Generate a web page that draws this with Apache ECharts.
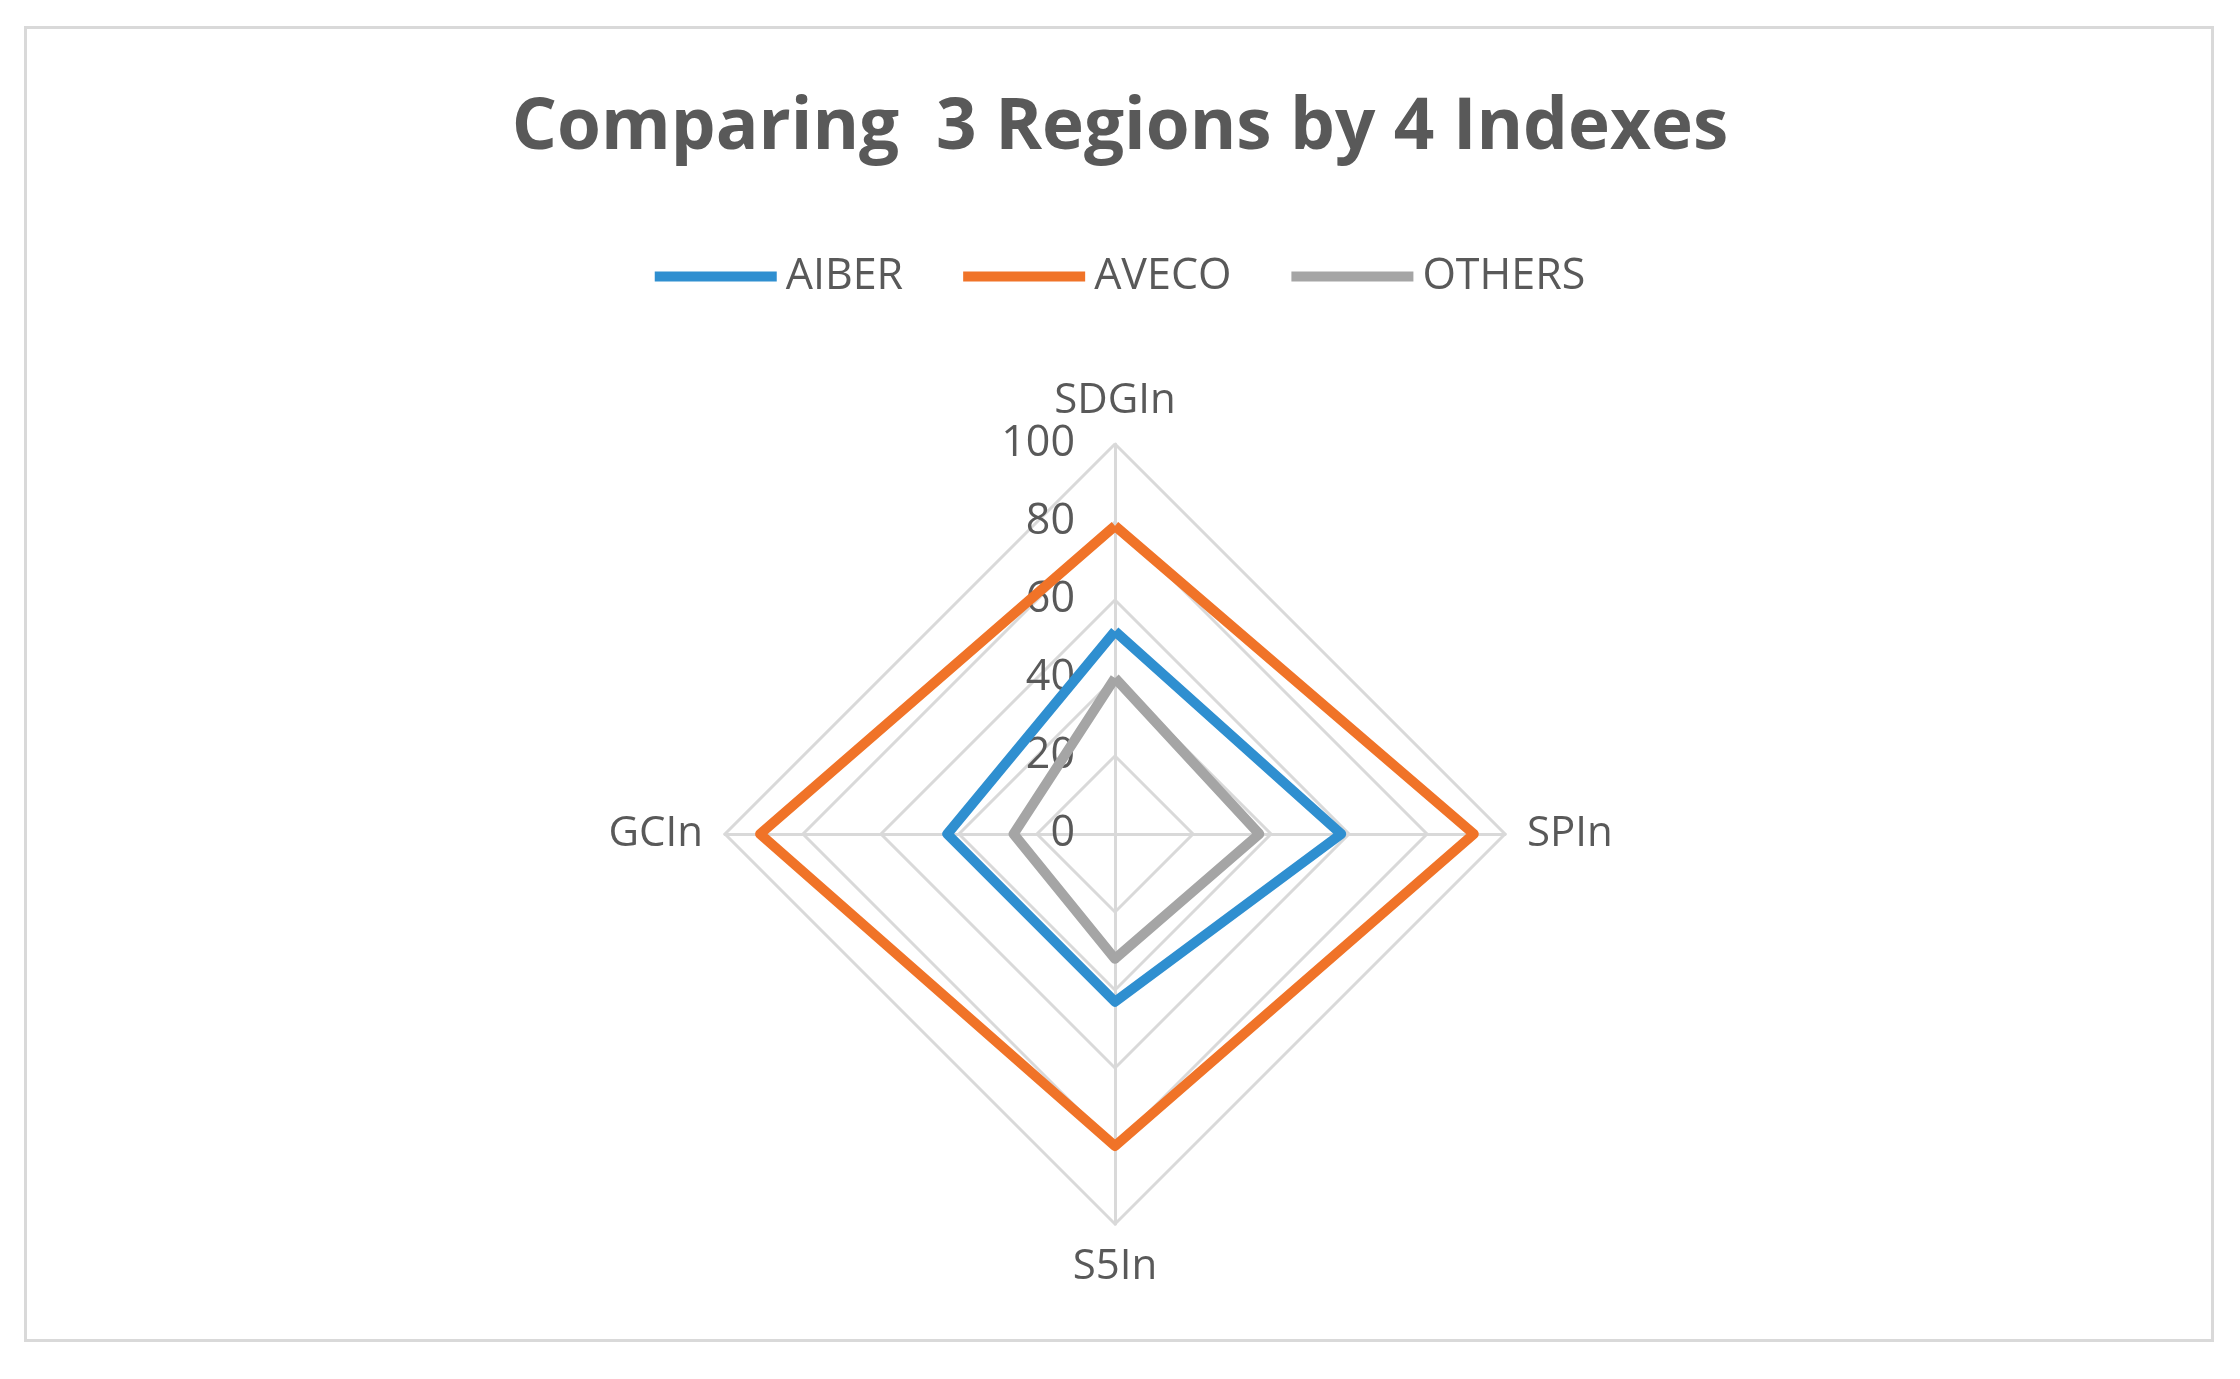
<!DOCTYPE html>
<html>
<head>
<meta charset="utf-8">
<script src="https://cdn.jsdelivr.net/npm/echarts@6/dist/echarts.min.js"></script>
<style>
  html, body { margin: 0; padding: 0; background: #fff; }
  #frame { position: absolute; left: 24px; top: 26px; width: 2190px; height: 1316px; border: 3px solid #d9d9d9; box-sizing: border-box; }
  #chart { width: 2240px; height: 1379px; }
</style>
</head>
<body>
<div id="frame"></div>
<div id="chart"></div>
<script>
// indicators in echarts order (counter-clockwise from top)
var indicators = ['SDGIn', 'GCIn', 'S5In', 'SPIn'];
var seriesNames = ['AIBER', 'AVECO', 'OTHERS'];
var aiber = [52, 43, 43, 58];
var aveco = [79, 91, 80, 92];
var others = [40, 26, 32, 37];
var tickLabels = [0, 20, 40, 60, 80, 100];

var colors = ['#2f8fd0', '#f07328', '#a5a5a5'];
var cx = 1115, cy = 834, R = 390;

var myChart = echarts.init(document.getElementById('chart'));

var option = {
    color: colors,
    title: {
        text: 'Comparing  3 Regions by 4 Indexes',
        left: 'center',
        top: 88,
        textStyle: { fontFamily: 'Open Sans', fontSize: 71, fontWeight: 'bold', color: '#595959' }
    },
    legend: {
        data: seriesNames,
        top: 250,
        left: 'center',
        icon: 'rect',
        itemWidth: 122,
        itemHeight: 10,
        itemGap: 60,
        textStyle: { fontFamily: 'Open Sans', fontSize: 43, color: '#595959', padding: [0, 0, 0, 4] }
    },
    radar: {
        center: [cx, cy],
        radius: R,
        shape: 'polygon',
        startAngle: 90,
        splitNumber: 5,
        indicator: indicators.map(function (n) { return { name: n, min: 0, max: 100 }; }),
        axisName: { fontFamily: 'Open Sans', fontSize: 42, color: '#595959' },
        nameGap: 22,
        splitLine: { lineStyle: { color: '#d9d9d9', width: 3 } },
        axisLine: { lineStyle: { color: '#d9d9d9', width: 3 } },
        splitArea: { show: false }
    },
    // hidden cartesian axis to draw the 0..100 tick labels along the vertical radar axis
    grid: { left: cx, width: 1, top: cy - R, height: R },
    xAxis: { type: 'value', show: false },
    yAxis: {
        type: 'value', min: 0, max: 100, interval: 20,
        axisLine: { show: false }, axisTick: { show: false }, splitLine: { show: false },
        axisLabel: {
            margin: 40, fontFamily: 'Open Sans', fontSize: 43, color: '#595959',
            formatter: function (v) { return tickLabels.indexOf(v) >= 0 ? String(v) : ''; }
        }
    },
    series: [{
        type: 'radar',
        symbol: 'none',
        data: [
            { name: 'AIBER', value: aiber, lineStyle: { color: colors[0], width: 10 } },
            { name: 'AVECO', value: aveco, lineStyle: { color: colors[1], width: 10 } },
            { name: 'OTHERS', value: others, lineStyle: { color: colors[2], width: 10 } }
        ]
    }]
};

myChart.setOption(option);
</script>
</body>
</html>
